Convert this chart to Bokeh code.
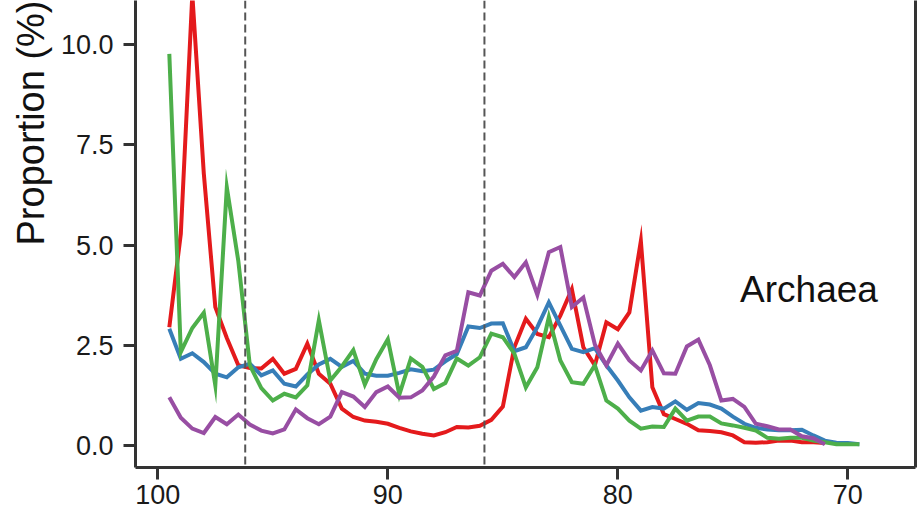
from bokeh.plotting import figure
from bokeh.models import Range1d, FixedTicker, LinearAxis, Span, Label, Title
from bokeh.embed import file_html
from bokeh.resources import INLINE

# ---------------- data ----------------
identity = [99.5, 99.0, 98.5, 98.0, 97.5, 97.0, 96.5, 96.0, 95.5, 95.0,
            94.5, 94.0, 93.5, 93.0, 92.5, 92.0, 91.5, 91.0, 90.5, 90.0,
            89.5, 89.0, 88.5, 88.0, 87.5, 87.0, 86.5, 86.0, 85.5, 85.0,
            84.5, 84.0, 83.5, 83.0, 82.5, 82.0, 81.5, 81.0, 80.5, 80.0,
            79.5, 79.0, 78.5, 78.0, 77.5, 77.0, 76.5, 76.0, 75.5, 75.0,
            74.5, 74.0, 73.5, 73.0, 72.5, 72.0, 71.5, 71.0, 70.5, 70.0,
            69.5]

red = [2.95, 5.28, 11.25, 6.78, 3.45, 2.68, 2.0, 1.93, 1.92, 2.16,
       1.79, 1.91, 2.54, 1.79, 1.54, 0.92, 0.71, 0.62, 0.59, 0.54,
       0.44, 0.35, 0.29, 0.25, 0.33, 0.46, 0.45, 0.49, 0.64, 0.97,
       2.45, 3.16, 2.78, 2.7, 3.24, 3.9, 2.45, 2.0, 3.07, 2.9,
       3.32, 5.1, 1.45, 0.78, 0.66, 0.54, 0.38, 0.36, 0.33, 0.25,
       0.08, 0.07, 0.08, 0.12, 0.12, 0.08, 0.08, 0.06]

blue = [2.91, 2.16, 2.3, 2.08, 1.79, 1.7, 1.95, 2.04, 1.75, 1.87,
        1.54, 1.47, 1.77, 2.02, 2.16, 1.96, 2.11, 1.79, 1.74, 1.74,
        1.81, 1.9, 1.85, 1.89, 2.1, 2.28, 2.97, 2.93, 3.04, 3.05,
        2.35, 2.45, 2.95, 3.57, 2.99, 2.41, 2.33, 2.43, 2.0, 1.62,
        1.2, 0.87, 0.96, 0.92, 1.1, 0.89, 1.06, 1.02, 0.92, 0.72,
        0.54, 0.44, 0.4, 0.38, 0.38, 0.39, 0.25, 0.12, 0.07, 0.06,
        0.03]

green = [9.77, 2.33, 2.93, 3.31, 1.5, 6.44, 4.6, 2.0, 1.43, 1.12,
         1.29, 1.2, 1.5, 3.12, 1.62, 1.97, 2.38, 1.52, 2.15, 2.65,
         1.27, 2.17, 1.96, 1.41, 1.56, 2.17, 1.99, 2.2, 2.79, 2.7,
         2.29, 1.45, 1.95, 3.2, 2.12, 1.58, 1.54, 2.0, 1.12, 0.92,
         0.62, 0.42, 0.47, 0.46, 0.92, 0.62, 0.72, 0.72, 0.55, 0.5,
         0.44, 0.37, 0.19, 0.17, 0.19, 0.19, 0.12, 0.08, 0.03, 0.03,
         0.03]

purple = [1.2, 0.69, 0.42, 0.31, 0.71, 0.53, 0.77, 0.52, 0.37, 0.3,
          0.4, 0.9, 0.68, 0.53, 0.72, 1.33, 1.22, 0.96, 1.33, 1.47,
          1.19, 1.2, 1.37, 1.72, 2.25, 2.36, 3.82, 3.74, 4.36, 4.53,
          4.2, 4.57, 3.76, 4.82, 4.95, 3.45, 3.69, 2.52, 2.0, 2.54,
          2.12, 1.87, 2.37, 1.8, 1.79, 2.47, 2.64, 2.0, 1.12, 1.16,
          0.96, 0.54, 0.48, 0.4, 0.4, 0.23, 0.18, 0.03]

thresholds = [96.2, 85.8]

x_ticks = [100, 90, 80, 70]
x_tick_labels = ["100", "90", "80", "70"]
y_ticks = [0.0, 2.5, 5.0, 7.5, 10.0]
y_tick_labels = ["0.0", "2.5", "5.0", "7.5", "10.0"]

panel_label = "Archaea"
y_title = "Proportion (%)"

# ---------------- figure ----------------
FONT = "Liberation Sans"
AXIS_COL = "#333333"
TEXT_COL = "#1a1a1a"

p = figure(width=918, height=517, output_backend="svg", toolbar_location=None,
           x_range=Range1d(100.97, 67.06), y_range=Range1d(-0.55, 11.1),
           min_border_left=135, min_border_right=3, min_border_top=0,
           min_border_bottom=50, background_fill_color="white",
           border_fill_color="white")
p.outline_line_color = None
p.xgrid.visible = False
p.ygrid.visible = False

for ax, ticks, labels in ((p.xaxis[0], x_ticks, x_tick_labels),
                          (p.yaxis[0], y_ticks, y_tick_labels)):
    ax.ticker = FixedTicker(ticks=ticks)
    ax.major_label_overrides = {t: l for t, l in zip(ticks, labels)}
    ax.minor_tick_line_color = None
    ax.axis_line_color = AXIS_COL
    ax.axis_line_width = 3
    ax.major_tick_line_color = AXIS_COL
    ax.major_tick_line_width = 3
    ax.major_tick_out = 12
    ax.major_tick_in = 0
    ax.major_label_text_font = FONT
    ax.major_label_text_font_size = "27px"
    ax.major_label_text_color = TEXT_COL

p.xaxis[0].major_label_standoff = 5
p.yaxis[0].major_label_standoff = 10

# right frame line
rax = LinearAxis(ticker=FixedTicker(ticks=[]), axis_line_color=AXIS_COL,
                 axis_line_width=3, major_tick_line_color=None,
                 minor_tick_line_color=None)
p.add_layout(rax, "right")

# y-axis title, pushed to the top of the left side
p.add_layout(Title(text=y_title, align="right", text_font=FONT,
                   text_font_size="38px", text_font_style="normal",
                   text_color="#111111", standoff=12), "left")

for loc in thresholds:
    p.add_layout(Span(location=loc, dimension="height", line_color="#555555",
                      line_width=2, line_dash="8 4"))

series = [(red, "#E41A1C"), (blue, "#377EB8"), (green, "#4DAF4A"),
          (purple, "#984EA3")]
for vals, col in series:
    p.line(identity[:len(vals)], vals, line_color=col, line_width=4,
           line_join="miter")

p.add_layout(Label(x=71.69, y=3.88, text=panel_label, text_font=FONT,
                   text_font_size="37px", text_color="#111111",
                   text_align="center", text_baseline="alphabetic"))

open("out.html", "w").write(file_html(p, INLINE))
